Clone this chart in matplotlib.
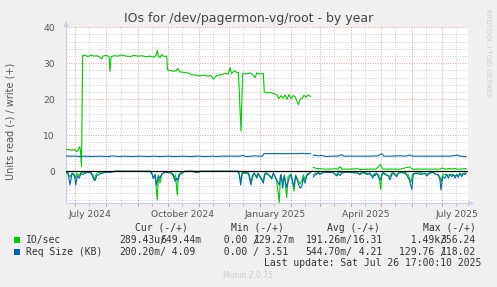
import datetime as dt
import matplotlib
matplotlib.use("Agg")
import matplotlib.pyplot as plt
import matplotlib.dates as mdates
from matplotlib.patches import Rectangle, Polygon
import numpy as np

# ---------------- data (x = days since 2024-06-21 17:00) ----------------
io_write_days = [0, 3.0, 6.0, 9.0, 10.4, 11.9, 13.4, 14.4, 15.4, 16.6, 18.9, 21.9, 24.9, 27.9, 30.8,
                 33.8, 35.5, 36.8, 39.8, 42.8, 43.8, 44.8, 47.8, 51.7, 55.7, 59.7, 63.7, 67.7, 71.6,
                 75.6, 79.6, 83.6, 87.6, 89.6, 90.8, 92.0, 93.5, 95.2, 97.5, 100.2, 101.0, 103.5,
                 106.5, 109.4, 111.4, 113.4, 117.4, 121.4, 125.4, 129.4, 133.3, 137.3, 141.3, 144.3,
                 146.6, 148.3, 151.2, 155.2, 158.2, 161.2, 163.2, 164.7, 166.2, 168.2, 170.1, 171.6,
                 174.1, 175.8, 179.1, 183.1, 186.1, 188.1, 189.8, 193.0, 196.3, 197.3, 199.0, 203.0,
                 207.0, 209.9, 211.9, 213.9, 215.9, 217.9, 219.9, 221.9, 223.9, 225.9, 227.9, 229.8,
                 231.3, 232.8, 234.8, 236.8, 238.8, 240.8, 243.3, 244.7,
                 246.1, 248.8, 252.7, 257.7, 262.7, 267.7, 270.6, 272.6, 274.6, 282.6, 290.5, 292.5,
                 302.5, 308.5, 312.9, 315.1, 322.4, 332.3, 342.3, 344.3, 352.2, 362.2, 372.1, 374.1,
                 377.1, 382.1, 384.1, 387.1, 389.0, 394.0, 397.0, 398.0]
io_write_vals = [6.1, 6.0, 5.9, 6.0, 5.5, 5.7, 6.8, 5.9, 1.3, 32.1, 32.2, 31.9, 32.3, 32.0, 32.1,
                 31.7, 31.2, 32.0, 32.2, 31.9, 27.7, 31.8, 32.1, 32.0, 32.3, 32.0, 31.9, 32.2, 32.0,
                 32.1, 31.8, 32.0, 31.7, 32.2, 33.6, 31.9, 31.6, 32.4, 31.9, 32.0, 28.2, 28.0,
                 27.8, 27.9, 28.6, 27.6, 27.5, 27.3, 26.8, 26.7, 26.5, 26.7, 26.4, 26.6,
                 25.6, 26.2, 26.7, 26.9, 27.2, 27.0, 28.8, 27.1, 27.6, 27.9, 27.4, 27.5,
                 11.2, 27.2, 27.0, 27.3, 26.8, 26.0, 27.3, 27.0, 27.2, 22.1, 21.8, 21.9,
                 21.6, 21.2, 20.2, 21.0, 20.3, 21.2, 20.0, 21.3, 20.2, 21.0, 20.8, 19.5,
                 18.5, 20.0, 20.3, 21.1, 20.6, 21.2, 20.8, np.nan,
                 1.1, 0.8, 0.7, 0.6, 0.6, 0.7, 0.6, 1.3, 0.6, 0.6, 0.7, 0.5,
                 0.6, 0.6, 1.9, 0.6, 0.6, 0.6, 1.2, 0.6, 0.6, 0.6, 0.6, 0.9,
                 0.6, 0.8, 0.6, 0.8, 0.6, 0.6, 0.8, 0.6]

io_read_days = [0, 4.0, 6.0, 9.7, 10.9, 13.2, 14.9, 18.9, 23.9, 26.9, 27.9, 29.4, 31.8, 38.8, 48.8,
                83.6, 85.6, 86.9, 88.6, 90.8, 92.0, 93.5, 95.2, 98.5, 105.5, 107.5, 109.0, 110.7,
                111.9, 114.4, 118.4, 171.1, 172.6, 173.8, 175.1, 179.1, 182.1, 184.1, 185.6, 187.1,
                189.8, 191.0, 194.0, 196.0, 198.0, 201.0, 203.0, 204.7, 206.3, 209.6, 212.2, 213.4,
                215.9, 217.4, 219.6, 220.9, 223.9, 226.9, 228.4, 230.8, 232.8, 234.8, 236.3, 237.8,
                239.8, 243.3, 244.7,
                246.1, 248.8, 252.7, 257.7, 265.7, 269.4, 270.6, 277.6, 292.5, 297.5, 305.2, 307.5,
                311.4, 313.1, 314.1, 315.4, 322.4, 324.4, 329.4, 332.3, 340.6, 342.3, 343.3, 344.8,
                352.2, 359.2, 364.2, 372.1, 373.1, 375.1, 380.1, 384.1, 387.1, 390.0, 394.0, 398.0]
io_read_vals = [0.2, 1.5, 0.5, 2.0, 0.5, 1.2, 0.3, 0.3, 0.2, 1.0, 2.4, 1.2, 0.3, 0.2, 0.0,
                0.0, 0.8, 2.0, 1.0, 8.0, 1.0, 3.3, 0.8, 0.2, 0.5, 2.0, 1.0, 6.6,
                1.0, 0.3, 0.0, 0.0, 1.0, 2.8, 0.5, 0.6, 0.8, 3.0, 2.0, 0.5,
                1.5, 0.5, 1.8, 2.5, 0.5, 0.8, 1.5, 2.2, 0.5, 2.6, 8.7, 1.0,
                3.0, 1.0, 7.3, 1.5, 0.8, 5.5, 1.0, 2.5, 3.5, 2.5, 1.0, 2.5,
                0.8, 0.3, np.nan,
                1.0, 0.5, 0.6, 0.2, 0.3, 1.0, 0.3, 0.2, 0.6, 0.3, 1.2, 0.6,
                1.0, 5.0, 1.5, 0.3, 1.5, 0.3, 1.0, 0.2, 1.0, 2.5, 3.0, 0.8,
                0.4, 0.8, 0.2, 1.5, 3.0, 0.8, 1.0, 0.8, 1.2, 1.0, 0.8, 0.4]

size_write_days = [0, 9.0, 13.9, 18.9, 25.9, 33.8, 41.8, 46.8, 51.7, 58.7, 65.7, 73.6, 81.6, 88.6,
                   93.5, 101.5, 108.5, 116.4, 123.4, 131.3, 138.3, 145.3, 149.3, 155.2, 161.2,
                   173.1, 176.1, 179.1, 185.1, 188.1, 191.0, 195.5, 197.0, 203.0, 212.9, 222.9,
                   232.8, 233.8, 236.8, 243.3, 244.7,
                   246.1, 250.8, 254.7, 258.7, 264.7, 270.6, 274.3, 276.6, 282.6, 292.5, 302.5,
                   310.4, 314.1, 316.4, 322.4, 332.3, 337.3, 342.3, 344.3, 352.2, 362.2, 372.1,
                   382.1, 390.0, 392.0, 398.0]
size_write_vals = [4.2, 4.2, 4.1, 4.2, 4.1, 4.2, 4.1, 4.3, 4.1, 4.2, 4.1, 4.2, 4.1, 4.2,
                   4.1, 4.2, 4.1, 4.2, 4.1, 4.2, 4.1, 4.2, 4.1, 4.2, 4.2,
                   4.2, 4.4, 4.1, 4.2, 4.3, 4.2, 4.2, 4.9, 4.9, 4.9, 4.9,
                   4.9, 5.0, 4.9, 4.9, np.nan,
                   4.5, 4.3, 4.4, 4.1, 4.2, 4.2, 4.6, 4.2, 4.2, 4.2, 4.2,
                   4.3, 4.9, 4.2, 4.2, 4.3, 4.2, 4.5, 4.2, 4.2, 4.2, 4.2,
                   4.2, 4.5, 4.2, 4.1]

size_read_days = [0, 2.0, 4.0, 5.7, 7.0, 8.5, 9.7, 11.4, 13.2, 14.9, 16.9, 18.9, 21.9, 24.9, 27.2,
                  28.9, 30.5, 33.8, 36.8, 39.8, 43.8, 46.8, 48.8, 83.6, 85.3, 86.9, 88.6, 90.2,
                  91.8, 93.5, 95.2, 96.8, 100.5, 103.5, 106.8, 108.5, 110.1, 111.4, 113.4, 116.7,
                  118.4, 126.4, 128.4, 132.3, 133.3, 171.1, 172.1, 173.8, 175.4, 178.1, 181.4, 184.1,
                  185.4, 187.4, 189.8, 191.3, 194.7, 196.3, 198.0, 199.7, 203.0, 204.7, 206.3, 209.6,
                  212.2, 213.9, 215.6, 217.2, 219.6, 221.9, 223.9, 226.9, 228.6, 231.1, 232.8, 234.5,
                  236.1, 237.8, 239.5, 241.1, 243.3, 244.7,
                  246.1, 247.8, 249.5, 251.0, 252.7, 254.4, 257.7, 262.7, 265.7, 267.7, 269.4, 270.9,
                  272.6, 274.3, 277.6, 280.9, 285.6, 289.3, 292.5, 294.2, 295.8, 299.2, 302.5, 305.2,
                  306.5, 307.5, 309.1, 311.4, 313.1, 314.1, 315.7, 317.4, 320.7, 322.4, 324.1, 325.7,
                  329.0, 330.6, 334.0, 337.3, 341.6, 344.0, 345.6, 347.3, 350.5, 353.9, 357.2, 358.9,
                  362.2, 365.5, 367.2, 370.4, 372.1, 373.1, 374.8, 377.1, 378.8, 380.4, 382.1, 383.8,
                  385.4, 387.1, 388.8, 390.3, 392.0, 393.7, 395.3, 397.0, 398.0]
size_read_vals = [0.2, 0.3, 3.8, 1.0, 0.6, 1.0, 3.8, 1.2, 1.9, 0.6, 0.9, 0.5, 0.3, 0.4, 1.9,
                  2.6, 1.3, 0.7, 0.5, 0.3, 0.3, 0.2, 0.0, 0.0, 0.5, 1.9, 0.9, 3.8,
                  1.3, 1.9, 0.9, 0.5, 0.3, 0.4, 0.9, 2.8, 1.9, 2.5, 0.9, 0.3,
                  0.0, 0.0, 0.3, 0.3, 0.0, 0.0, 0.5, 3.8, 0.5, 0.3, 0.5, 3.8,
                  1.3, 0.5, 1.9, 0.7, 2.4, 3.3, 0.9, 0.5, 1.3, 1.9, 0.5, 2.4,
                  3.8, 0.9, 4.7, 1.3, 4.5, 2.0, 0.9, 4.3, 1.3, 3.3, 4.7, 4.3,
                  1.9, 3.3, 1.3, 0.9, 0.3, np.nan,
                  1.6, 1.0, 0.9, 0.2, 0.9, 0.5, 0.2, 0.3, 0.3, 0.9, 1.3, 0.7,
                  1.2, 0.5, 0.3, 0.2, 0.3, 0.2, 1.0, 0.5, 0.3, 0.9, 0.5, 1.9,
                  0.9, 1.3, 0.5, 1.9, 2.4, 0.9, 0.5, 0.9, 1.3, 2.4, 0.9, 0.5,
                  1.5, 0.5, 0.3, 0.2, 2.4, 5.0, 0.9, 0.5, 0.7, 0.9, 0.5, 1.3,
                  0.5, 0.3, 0.7, 0.9, 2.4, 5.2, 1.5, 1.9, 0.9, 1.9, 0.9, 1.5,
                  0.9, 1.9, 0.9, 1.7, 0.5, 1.5, 0.7, 0.9, 0.6]

title = "IOs for /dev/pagermon-vg/root - by year"
y_label = "Units read (-) / write (+)"
x_tick_labels = ["July 2024", "October 2024", "January 2025", "April 2025", "July 2025"]
y_ticks = [0, 10, 20, 30, 40]
legend_names = ["IO/sec", "Req Size (KB)"]
legend_cur = [("289.43u/", "649.44m"), ("200.20m/", "  4.09")]
legend_min = [("  0.00 /", "129.27m"), ("  0.00 /", "  3.51")]
legend_avg = [("191.26m/", " 16.31"), ("544.70m/", "  4.21")]
legend_max = [("  1.49k/", "356.24"), ("129.76 /", "118.02")]
last_update = "Last update: Sat Jul 26 17:00:10 2025"
munin_version = "Munin 2.0.75"

GREEN = "#00CC00"
BLUE = "#0066B3"

# ---------------- figure ----------------
W, H = 497, 287
fig = plt.figure(figsize=(W / 100, H / 100), dpi=100, facecolor="#F0F0F0")

def fx(px):
    return px / W

def fy(py):
    return 1 - py / H

L, R, T, B = 66, 468, 27.3, 203.3
ax = fig.add_axes([fx(L), fy(B), (R - L) / W, (B - T) / H])
ax.set_facecolor("white")

start = mdates.date2num(dt.datetime(2024, 6, 21, 17, 0))
ax.set_xlim(start, start + 400)
ax.set_ylim(-8.9, 40)

def xs(days):
    return start + np.asarray(days, dtype=float)

lw = 0.8
ax.plot(xs(io_read_days), -np.asarray(io_read_vals), color=GREEN, lw=lw, zorder=3)
ax.plot(xs(io_write_days), io_write_vals, color=GREEN, lw=lw, zorder=3)
ax.plot(xs(size_read_days), -np.asarray(size_read_vals), color=BLUE, lw=lw, zorder=4)
ax.plot(xs(size_write_days), size_write_vals, color=BLUE, lw=lw, zorder=4)
ax.axhline(0, color="black", lw=0.9, zorder=5)

# grid
MAJ = "#E8A0A0"
MIN = "#CFCFCF"
months = [dt.datetime(2024 + (6 + i) // 12, (6 + i) % 12 + 1, 1) for i in range(13)]
mids = [dt.datetime(2024 + (5 + i) // 12, (5 + i) % 12 + 1, 15) for i in range(14)]
for m in mids:
    x = mdates.date2num(m)
    if start <= x <= start + 400:
        ax.axvline(x, color=MIN, lw=0.7, ls=(0, (1, 1.5)), zorder=1)
for m in months:
    ax.axvline(mdates.date2num(m), color=MAJ, lw=0.7, ls=(0, (1, 1.5)), zorder=1)
for yv in np.arange(-8, 40, 2):
    if yv % 10 != 0:
        ax.axhline(yv, color=MIN, lw=0.7, ls=(0, (1, 1.5)), zorder=1)
for yv in [10, 20, 30, 40]:
    ax.axhline(yv, color=MAJ, lw=0.7, ls=(0, (1, 1.5)), zorder=1)

for s in ["top", "right"]:
    ax.spines[s].set_visible(False)
AXC = "#CDCDEB"
for s in ["left", "bottom"]:
    ax.spines[s].set_color(AXC)
    ax.spines[s].set_linewidth(0.8)

ax.set_yticks(y_ticks)
ax.set_yticklabels([str(v) for v in y_ticks])
ax.tick_params(axis="y", length=0, pad=8, labelsize=6.6, labelcolor="#555555")
label_pos = [mdates.date2num(dt.datetime(2024, 7, 16)), mdates.date2num(dt.datetime(2024, 10, 16)),
             mdates.date2num(dt.datetime(2025, 1, 16)), mdates.date2num(dt.datetime(2025, 4, 16)),
             mdates.date2num(dt.datetime(2025, 7, 16))]
ax.set_xticks(label_pos)
ax.set_xticklabels(x_tick_labels)
ax.tick_params(axis="x", length=0, pad=4.5, labelsize=6.6, labelcolor="#555555")

# small tick marks below the axis
for m in months:
    ax.plot([mdates.date2num(m)] * 2, [-8.9, -9.6], color="#E08080", lw=0.6, clip_on=False, zorder=2)
for m in mids:
    x = mdates.date2num(m)
    if start <= x <= start + 400:
        ax.plot([x, x], [-8.9, -9.6], color="#BBBBBB", lw=0.6, clip_on=False, zorder=2)

# arrows
fig.patches.append(Polygon([[fx(63), fy(27)], [fx(69), fy(27)], [fx(66), fy(21)]], closed=True,
                           transform=fig.transFigure, facecolor=AXC, edgecolor="none"))
fig.patches.append(Polygon([[fx(468), fy(200.3)], [fx(468), fy(206.3)], [fx(474), fy(203.3)]], closed=True,
                           transform=fig.transFigure, facecolor=AXC, edgecolor="none"))

# texts
fig.text(fx(248.5), fy(18.5), title, ha="center", va="center", fontsize=9.0, color="#444444")
fig.text(fx(11), fy(121), y_label, ha="center", va="center", rotation=90, fontsize=7.0, color="#555555")
fig.text(fx(488), fy(53), "RRDTOOL / TOBI OETIKER", ha="center", va="center", rotation=270,
         fontsize=5.0, color="#CCCCCC")

mono = dict(family="DejaVu Sans Mono", fontsize=7.0, color="#333333", va="center")
CW = 5.9
headers = [("Cur (-/+)", 134.7), ("Min (-/+)", 230.7), ("Avg (-/+)", 327.3), ("Max (-/+)", 422.7)]
for txt, x in headers:
    fig.text(fx(x), fy(227.7), txt, ha="left", **mono)
rows_y = [240.0, 251.8]
colors = [GREEN, BLUE]
col_x = [119.0, 212.2, 305.7, 399.2]
for i in range(2):
    yy = rows_y[i]
    fig.patches.append(Rectangle((fx(14), fy(yy + 3)), 6 / W, 6 / H, transform=fig.transFigure,
                                 facecolor=colors[i], edgecolor="none"))
    fig.text(fx(26), fy(yy), legend_names[i], ha="left", **mono)
    for col, x0 in zip([legend_cur, legend_min, legend_avg, legend_max], col_x):
        r, w = col[i]
        fig.text(fx(x0), fy(yy), r, ha="left", **mono)
        fig.text(fx(x0 + 7 * CW), fy(yy), w, ha="left", **mono)
fig.text(fx(481.7), fy(263.3), last_update, ha="right", **mono)
fig.text(fx(248), fy(276), munin_version, ha="center", va="center", fontsize=5.5, color="#CCCCCC")

fig.savefig("out.png", dpi=100, facecolor=fig.get_facecolor())
